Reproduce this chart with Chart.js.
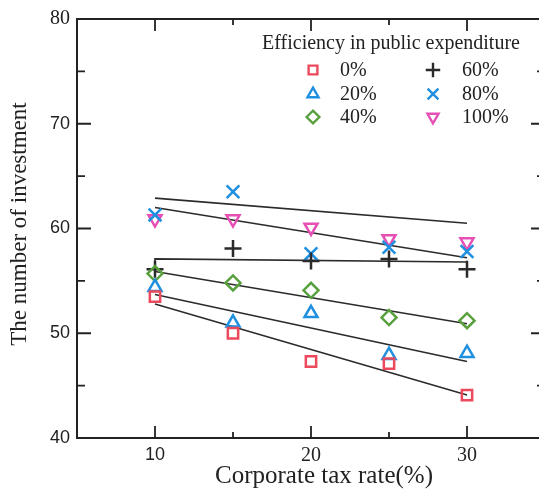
<!DOCTYPE html>
<html>
<head>
<meta charset="utf-8">
<script src="https://cdn.jsdelivr.net/npm/chart.js@4/dist/chart.umd.min.js"></script>
<style>
  html, body { margin: 0; padding: 0; background: #ffffff; overflow: hidden; }
  #wrap { width: 539px; height: 491px; overflow: hidden; position: relative; }
  canvas { display: block; }
</style>
</head>
<body>
<div id="wrap"><canvas id="chart" width="560" height="491"></canvas></div>
<script>
// Corporate tax rate (%) on the horizontal axis
const taxRates = [10, 15, 20, 25, 30];

// Number of investment for each efficiency level of public expenditure
const eff0   = [53.5, 50.0, 47.3, 47.1, 44.1];
const eff20  = [54.4, 51.0, 51.9, 47.9, 48.1];
const eff40  = [55.7, 54.8, 54.1, 51.5, 51.2];
const eff60  = [56.1, 58.1, 56.9, 57.1, 56.1];
const eff80  = [61.3, 63.5, 57.6, 58.2, 57.8];
const eff100 = [60.9, 60.9, 60.1, 59.0, 58.7];

// Fitted trend lines: rates and values at their end points
const trendRates   = [10, 30];
const trend0       = [52.8, 44.1];
const trend20      = [53.7, 47.3];
const trend40      = [55.9, 50.9];
const trend60Rates = [10, 10, 30];
const trend60      = [56.4, 57.1, 56.8];
const trend80      = [62.9, 60.5];
const trend100     = [62.0, 57.2];

const seriesLabels = ['0%', '20%', '40%', '60%', '80%', '100%'];
const legendTitle = 'Efficiency in public expenditure';
const xTitle = 'Corporate tax rate(%)';
const yTitle = 'The number of investment';

// Axis ticks
const xMajorTicks = [10, 20, 30];
const xMinorTicks = [15, 25];
const yMajorTicks = [40, 50, 60, 70, 80];
const yMinorTicks = [45, 55, 65, 75];

const SERIF = '"Liberation Serif", "Times New Roman", serif';
const SANS = '"Liberation Sans", Arial, sans-serif';
const INK = '#222222';

const toPoints = (xs, ys) => xs.map((x, i) => ({ x: x, y: ys[i] }));

const markerStyles = [
  { pointStyle: 'rect',     rotation: 0,   radius: 7.3, color: '#ec4a5c' },
  { pointStyle: 'triangle', rotation: 0,   radius: 7.5, color: '#1f8fe0' },
  { pointStyle: 'rectRot',  rotation: 0,   radius: 7.5, color: '#58a03e' },
  { pointStyle: 'cross',    rotation: 0,   radius: 8.5, color: '#2a2a2a' },
  { pointStyle: 'crossRot', rotation: 0,   radius: 9,   color: '#1f8fe0' },
  { pointStyle: 'triangle', rotation: 180, radius: 7.5, color: '#e64fb4' }
];
const seriesValues = [eff0, eff20, eff40, eff60, eff80, eff100];

const scatterSets = seriesValues.map((vals, i) => ({
  type: 'scatter',
  label: seriesLabels[i],
  data: toPoints(taxRates, vals),
  pointStyle: markerStyles[i].pointStyle,
  rotation: markerStyles[i].rotation,
  pointRadius: markerStyles[i].radius,
  pointHoverRadius: markerStyles[i].radius,
  borderColor: markerStyles[i].color,
  backgroundColor: 'rgba(0,0,0,0)',
  pointBorderWidth: 2.5,
  showLine: false
}));

const trendDefs = [
  [trendRates, trend0], [trendRates, trend20], [trendRates, trend40],
  [trend60Rates, trend60], [trendRates, trend80], [trendRates, trend100]
];
const trendSets = trendDefs.map(([xs, ys], i) => ({
  type: 'line',
  label: 'fit ' + seriesLabels[i],
  data: toPoints(xs, ys),
  borderColor: '#2b2b2b',
  borderWidth: 1.6,
  pointRadius: 0,
  fill: false,
  tension: 0
}));

// Frame with inward ticks on all four sides, axis titles and the legend box
const framePlugin = {
  id: 'frameTicks',
  afterDraw(chart) {
    const { ctx, chartArea: a, scales: { x, y } } = chart;
    ctx.save();
    ctx.strokeStyle = INK;
    ctx.lineWidth = 2;
    ctx.strokeRect(a.left, a.top, a.right - a.left, a.bottom - a.top);
    ctx.lineWidth = 1.8;
    ctx.beginPath();
    const xt = (vals, len) => vals.forEach(v => {
      const px = x.getPixelForValue(v);
      ctx.moveTo(px, a.bottom); ctx.lineTo(px, a.bottom - len);
      ctx.moveTo(px, a.top);    ctx.lineTo(px, a.top + len);
    });
    const yt = (vals, len) => vals.forEach(v => {
      const py = y.getPixelForValue(v);
      ctx.moveTo(a.left, py);  ctx.lineTo(a.left + len, py);
      ctx.moveTo(a.right, py); ctx.lineTo(a.right - len, py);
    });
    xt(xMajorTicks, 12); xt(xMinorTicks, 6);
    yt(yMajorTicks, 14); yt(yMinorTicks, 8);
    ctx.stroke();

    // axis titles
    ctx.fillStyle = INK;
    ctx.font = '25px ' + SERIF;
    ctx.textAlign = 'center';
    ctx.textBaseline = 'middle';
    ctx.fillText(xTitle, 324, 476);
    ctx.save();
    ctx.font = '23px ' + SERIF;
    ctx.translate(20, 224);
    ctx.rotate(-Math.PI / 2);
    ctx.fillText(yTitle, 0, 0);
    ctx.restore();

    // legend
    ctx.font = '20px ' + SERIF;
    ctx.textAlign = 'center';
    ctx.textBaseline = 'alphabetic';
    ctx.fillText(legendTitle, 391, 49);
    const cols = [{ mx: 313, tx: 340 }, { mx: 433, tx: 462 }];
    const rows = [70, 94, 117];
    ctx.textAlign = 'left';
    ctx.textBaseline = 'middle';
    seriesLabels.forEach((lab, i) => {
      const c = cols[Math.floor(i / 3)];
      const ry = rows[i % 3];
      const m = markerStyles[i];
      ctx.save();
      ctx.strokeStyle = m.color;
      ctx.fillStyle = 'rgba(0,0,0,0)';
      ctx.lineWidth = 2.4;
      Chart.helpers.drawPoint(ctx, {
        pointStyle: m.pointStyle, rotation: m.rotation,
        radius: m.radius * 0.85, borderWidth: 2.4
      }, c.mx, ry);
      ctx.restore();
      ctx.fillStyle = INK;
      ctx.fillText(lab, c.tx, ry + 1);
    });
    ctx.restore();
  }
};

new Chart(document.getElementById('chart'), {
  data: { datasets: [...scatterSets, ...trendSets] },
  options: {
    responsive: false,
    devicePixelRatio: 1,
    animation: false,
    layout: { padding: { top: 15, right: 15, left: 0, bottom: 0 } },
    plugins: { legend: { display: false }, tooltip: { enabled: false } },
    scales: {
      x: {
        type: 'linear',
        min: 5, max: 35,
        afterBuildTicks: s => { s.ticks = xMajorTicks.map(v => ({ value: v })); },
        afterFit: s => { s.height = 53; },
        grid: { display: false, drawTicks: false },
        border: { display: false },
        ticks: {
          padding: 6,
          color: INK,
          font: c => (c.tick && c.tick.value === 10)
            ? { family: SANS, size: 18 } : { family: SERIF, size: 20 }
        }
      },
      y: {
        type: 'linear',
        min: 40, max: 80,
        afterBuildTicks: s => { s.ticks = yMajorTicks.map(v => ({ value: v })); },
        afterFit: s => { s.width = 77; },
        grid: { display: false, drawTicks: false },
        border: { display: false },
        ticks: {
          padding: 7,
          color: INK,
          font: c => (c.tick && c.tick.value === 80)
            ? { family: SERIF, size: 20 } : { family: SANS, size: 18 }
        }
      }
    }
  },
  plugins: [framePlugin]
});
</script>
</body>
</html>
